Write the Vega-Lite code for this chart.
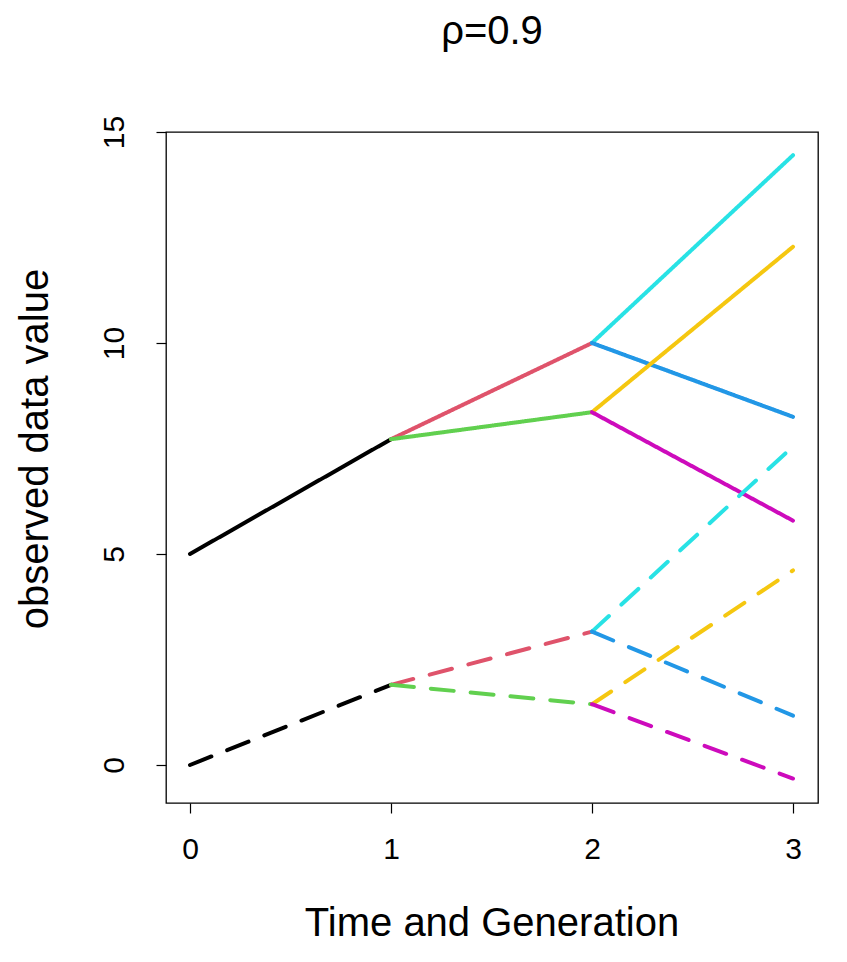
{
  "$schema": "https://vega.github.io/schema/vega-lite/v6.json",
  "width": 652,
  "height": 671,
  "autosize": "none",
  "padding": {"left": 166, "top": 132, "right": 29, "bottom": 159},
  "background": "white",
  "config": {
    "font": "Liberation Sans",
    "view": {"stroke": "black", "strokeWidth": 1.3}
  },
  "title": {
    "text": "ρ=0.9",
    "fontSize": 40,
    "fontWeight": "normal",
    "font": "Liberation Sans",
    "color": "black",
    "anchor": "middle",
    "baseline": "alphabetic",
    "offset": 31
  },
  "data": {
    "values": [
      {"seg": "s0", "c": "black", "type": "solid", "x": 0, "y": 5},
      {"seg": "s0", "c": "black", "type": "solid", "x": 1, "y": 7.72},
      {"seg": "s1", "c": "red", "type": "solid", "x": 1, "y": 7.72},
      {"seg": "s1", "c": "red", "type": "solid", "x": 2, "y": 10.0},
      {"seg": "s2", "c": "green", "type": "solid", "x": 1, "y": 7.72},
      {"seg": "s2", "c": "green", "type": "solid", "x": 2, "y": 8.36},
      {"seg": "s3", "c": "cyan", "type": "solid", "x": 2, "y": 10.0},
      {"seg": "s3", "c": "cyan", "type": "solid", "x": 3, "y": 14.45},
      {"seg": "s4", "c": "blue", "type": "solid", "x": 2, "y": 10.0},
      {"seg": "s4", "c": "blue", "type": "solid", "x": 3, "y": 8.25},
      {"seg": "s5", "c": "yellow", "type": "solid", "x": 2, "y": 8.36},
      {"seg": "s5", "c": "yellow", "type": "solid", "x": 3, "y": 12.28},
      {"seg": "s6", "c": "magenta", "type": "solid", "x": 2, "y": 8.36},
      {"seg": "s6", "c": "magenta", "type": "solid", "x": 3, "y": 5.79},
      {"seg": "d0", "c": "black", "type": "dashed", "x": 0, "y": 0},
      {"seg": "d0", "c": "black", "type": "dashed", "x": 1, "y": 1.9},
      {"seg": "d1", "c": "red", "type": "dashed", "x": 1, "y": 1.9},
      {"seg": "d1", "c": "red", "type": "dashed", "x": 2, "y": 3.16},
      {"seg": "d2", "c": "green", "type": "dashed", "x": 1, "y": 1.9},
      {"seg": "d2", "c": "green", "type": "dashed", "x": 2, "y": 1.44},
      {"seg": "d3", "c": "cyan", "type": "dashed", "x": 2, "y": 3.16},
      {"seg": "d3", "c": "cyan", "type": "dashed", "x": 3, "y": 7.55},
      {"seg": "d4", "c": "blue", "type": "dashed", "x": 2, "y": 3.16},
      {"seg": "d4", "c": "blue", "type": "dashed", "x": 3, "y": 1.17},
      {"seg": "d5", "c": "yellow", "type": "dashed", "x": 2, "y": 1.44},
      {"seg": "d5", "c": "yellow", "type": "dashed", "x": 3, "y": 4.61},
      {"seg": "d6", "c": "magenta", "type": "dashed", "x": 2, "y": 1.44},
      {"seg": "d6", "c": "magenta", "type": "dashed", "x": 3, "y": -0.32}
    ]
  },
  "mark": {"type": "line", "strokeWidth": 4, "strokeCap": "round", "strokeJoin": "round"},
  "encoding": {
    "x": {
      "field": "x",
      "type": "quantitative",
      "scale": {"domain": [0, 3], "range": [24, 627], "zero": false, "nice": false},
      "axis": {
        "values": [0, 1, 2, 3],
        "format": "d",
        "grid": false,
        "domain": false,
        "ticks": true,
        "tickSize": 10,
        "tickColor": "black",
        "tickWidth": 1.2,
        "labelFontSize": 30,
        "labelColor": "black",
        "labelFlush": false,
        "labelBaseline": "alphabetic",
        "labelPadding": 45,
        "title": "Time and Generation",
        "titleFontSize": 40,
        "titleFontWeight": "normal",
        "titleColor": "black",
        "titleBaseline": "alphabetic",
        "titleY": 132
      }
    },
    "y": {
      "field": "y",
      "type": "quantitative",
      "scale": {"domain": [0, 15], "range": [633, 0], "zero": false, "nice": false},
      "axis": {
        "values": [0, 5, 10, 15],
        "format": "d",
        "grid": false,
        "domain": false,
        "ticks": true,
        "tickSize": 10,
        "tickColor": "black",
        "tickWidth": 1.2,
        "labelFontSize": 30,
        "labelColor": "black",
        "labelFlush": false,
        "labelAngle": -90,
        "labelAlign": "center",
        "labelBaseline": "alphabetic",
        "labelPadding": 33,
        "title": "observed data value",
        "titleFontSize": 40,
        "titleFontWeight": "normal",
        "titleColor": "black",
        "titleAngle": -90,
        "titleBaseline": "alphabetic",
        "titleX": -119
      }
    },
    "color": {
      "field": "c",
      "type": "nominal",
      "scale": {
        "domain": ["black", "red", "green", "cyan", "blue", "yellow", "magenta"],
        "range": ["#000000", "#DF536B", "#61D04F", "#28E2E5", "#2297E6", "#F5C710", "#CD0BBC"]
      },
      "legend": null
    },
    "strokeDash": {
      "field": "type",
      "type": "nominal",
      "scale": {"domain": ["solid", "dashed"], "range": [[1, 0], [23, 17]]},
      "legend": null
    },
    "detail": {"field": "seg"}
  }
}
